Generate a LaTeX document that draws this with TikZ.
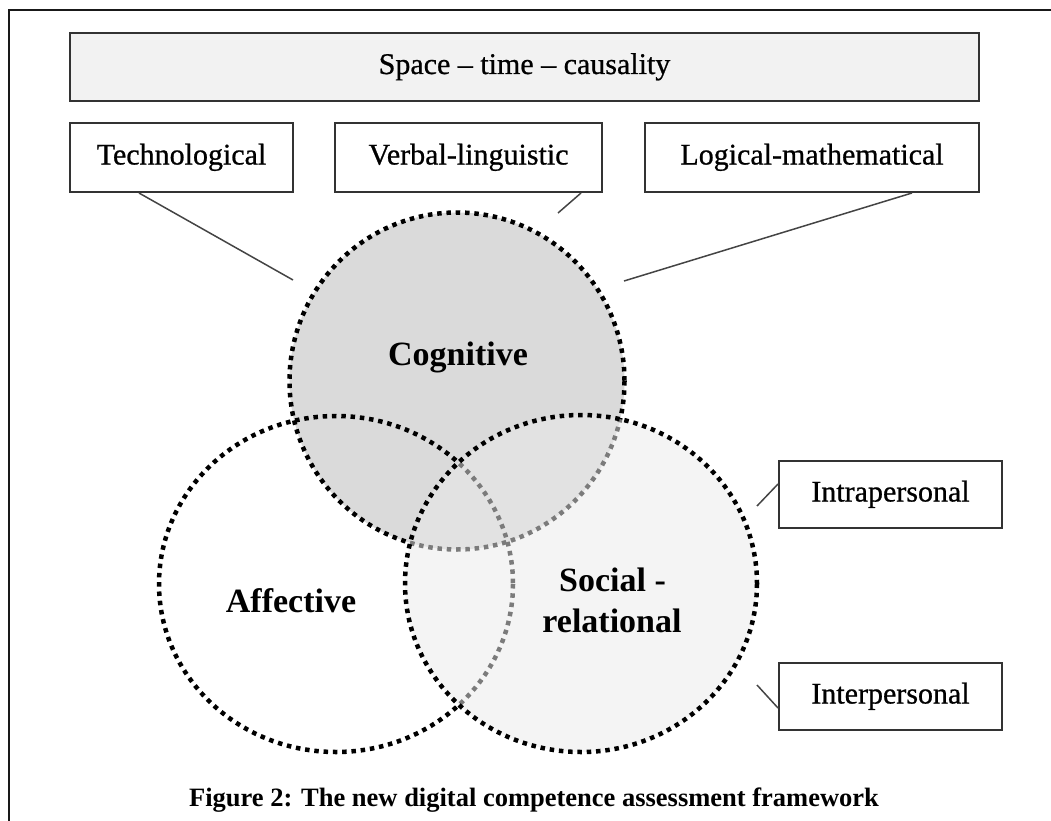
\documentclass[tikz,border=0pt]{standalone}
\usepackage{fontspec}
\setmainfont{Liberation Serif}
\newfontfamily\heavyserif{Liberation Serif}[FakeBold=0.7,Ligatures=TeX]
\definecolor{boxline}{HTML}{333333}
\definecolor{topfill}{HTML}{F2F2F2}
\definecolor{cogfill}{HTML}{DADADA}
\definecolor{socfill}{HTML}{EAEAEA}
\definecolor{connline}{HTML}{444444}
\begin{document}
\begin{tikzpicture}[x=1pt,y=-1pt,
  labelbox/.style={draw=boxline, line width=2pt, fill=white, inner sep=0pt,
    font=\heavyserif\fontsize{30}{36}\selectfont, text height=20pt, text depth=6pt},
  conn/.style={draw=connline, line width=1.5pt},
  dotring/.style={line width=4.5pt, dash pattern=on 4.5pt off 4.8pt},
  circlabel/.style={font=\fontsize{34}{41}\selectfont\bfseries, anchor=base, inner sep=0pt},
  caption/.style={font=\fontsize{26.5}{32}\selectfont\bfseries, anchor=base, inner sep=0pt}]
\useasboundingbox (0,0) rectangle (1051,821);
% frame
\draw[line width=2pt, black!90] (1051,10) -- (9,10) -- (9,821);
% boxes
\node[labelbox, fill=topfill, minimum width=909pt, minimum height=68pt] (stc) at (524.5,67) {Space – time – causality};
\node[labelbox, minimum width=223pt, minimum height=69pt] (tech) at (181.5,157.5) {Technological};
\node[labelbox, minimum width=267pt, minimum height=69pt] (verbal) at (468.5,157.5) {Verbal-linguistic};
\node[labelbox, minimum width=334pt, minimum height=69pt] (logical) at (812,157.5) {Logical-mathematical};
\node[labelbox, minimum width=223pt, minimum height=67pt] (intra) at (890.5,494.5) {Intrapersonal};
\node[labelbox, minimum width=223pt, minimum height=67pt] (inter) at (890.5,696.5) {Interpersonal};
% circles
\fill[cogfill] (457,381) ellipse [x radius=167.5, y radius=168.5];
\draw[dotring] (457,381) ellipse [x radius=167.5, y radius=168.5];
\draw[dotring] (336,584) ellipse [x radius=177, y radius=168];
\fill[socfill, fill opacity=0.53] (581,583.5) ellipse [x radius=176, y radius=168.5];
\draw[dotring] (581,583.5) ellipse [x radius=176, y radius=168.5];
% circle labels
\node[circlabel] (cog) at (458,365) {Cognitive};
\node[circlabel] (aff) at (291,612) {Affective};
\node[circlabel] (soc1) at (612.5,591) {Social -};
\node[circlabel] (soc2) at (612,632) {relational};
% connector free ends
\coordinate (t1) at (293,280);
\coordinate (v1) at (558,213);
\coordinate (l1) at (624,281);
\coordinate (i1) at (757,506);
\coordinate (e1) at (757,685);
\draw[conn] ([xshift=70pt]tech.south west) -- (t1);
\draw[conn] ([xshift=-22pt]verbal.south east) -- (v1);
\draw[conn] ([xshift=-68pt]logical.south east) -- (l1);
\draw[conn] ([yshift=-24pt]intra.north west) -- (i1);
\draw[conn] ([yshift=23pt]inter.south west) -- (e1);
% caption
\node[caption] (cap) at (534,806) {Figure 2: The new digital competence assessment framework};
\end{tikzpicture}
\end{document}
